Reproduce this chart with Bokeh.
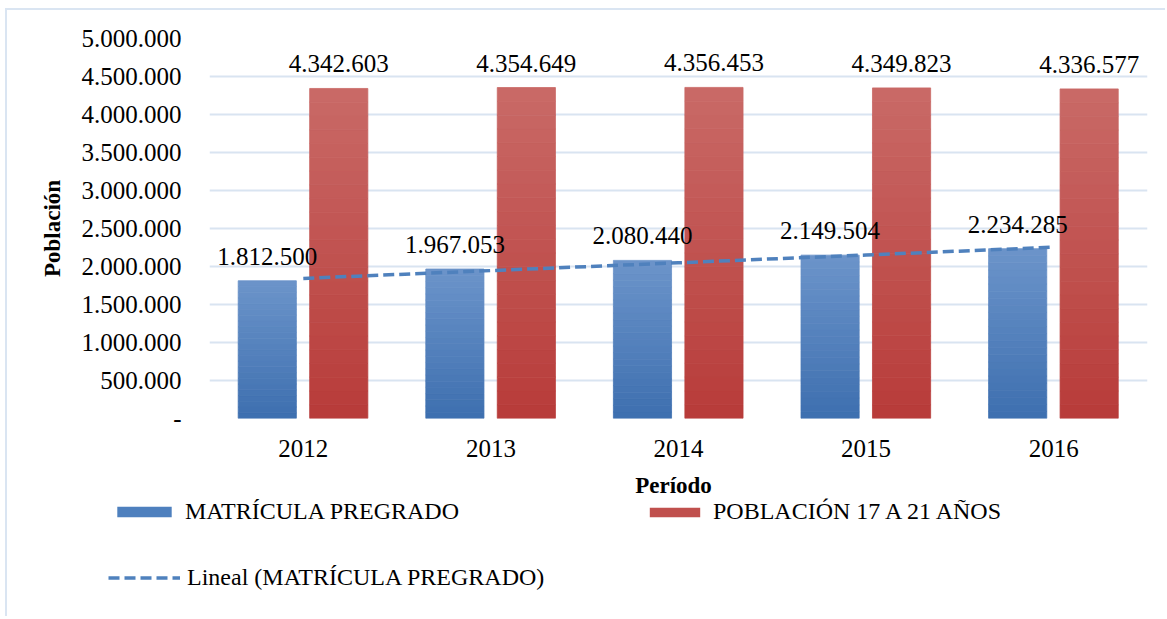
import numpy as np
from bokeh.plotting import figure
from bokeh.models import (ColumnDataSource, FactorRange, FixedTicker, Legend, LegendItem,
                          LabelSet, Label, Range1d)
from bokeh.transform import dodge
from bokeh.embed import file_html
from bokeh.resources import INLINE

# ---- data ----
years = ["2012", "2013", "2014", "2015", "2016"]
matricula = [1812500, 1967053, 2080440, 2149504, 2234285]
poblacion = [4342603, 4354649, 4356453, 4349823, 4336577]
y_ticks = [0, 500000, 1000000, 1500000, 2000000, 2500000, 3000000, 3500000, 4000000, 4500000, 5000000]
y_tick_labels = ["-", "500.000", "1.000.000", "1.500.000", "2.000.000", "2.500.000",
                 "3.000.000", "3.500.000", "4.000.000", "4.500.000", "5.000.000"]
name_m = "MATRÍCULA PREGRADO"
name_p = "POBLACIÓN 17 A 21 AÑOS"
name_t = "Lineal (MATRÍCULA PREGRADO)"
x_title = "Período"
y_title = "Población"

# page-space layout: outer border at (5, 8); canvases start after the 2px border
OX, OY = 7, 10
W = 1167 - OX
H1 = 460
H2 = 148
SERIF = "Liberation Serif"
BORDER = "2px solid #dae5f2"

p = figure(x_range=FactorRange(*years), y_range=(0, 5000000), width=W, height=H1,
           output_backend="svg", toolbar_location=None,
           min_border_left=209 - OX, min_border_right=W - (1147 - OX), min_border_top=38 - OY,
           min_border_bottom=H1 - (418 - OY))
p.styles = {"margin-left": "5px", "margin-top": "8px", "border-left": BORDER, "border-top": BORDER}
p.background_fill_color = "white"
p.border_fill_color = "white"
p.outline_line_color = None

def fmt(v):
    return f"{v:,}".replace(",", ".")

def hex2rgb(h):
    h = h.lstrip("#")
    return [int(h[i:i + 2], 16) for i in (0, 2, 4)]

def lerp(c1, c2, t):
    a, b = hex2rgb(c1), hex2rgb(c2)
    return "#%02x%02x%02x" % tuple(int(round(a[i] + (b[i] - a[i]) * t)) for i in range(3))

N = 24
BW = 0.31
OFF_M, OFF_P = -0.192, 0.189

def gradient_bars(fig, values, offset, c_bottom, c_top):
    for k in range(N):
        col = lerp(c_bottom, c_top, (k + 0.5) / N)
        src = ColumnDataSource(dict(year=years,
                                    bottom=[v * k / N for v in values],
                                    top=[v * (k + 1) / N for v in values]))
        fig.vbar(x=dodge("year", offset, range=fig.x_range), bottom="bottom", top="top",
                 width=BW, source=src, fill_color=col, line_color=col, line_width=0.8)

gradient_bars(p, matricula, OFF_M, "#3d6faf", "#6c94ca")
gradient_bars(p, poblacion, OFF_P, "#b83b39", "#c96a67")

# linear trend line of matricula (Excel "Lineal")
xi = np.arange(len(years))
slope, intercept = np.polyfit(xi, matricula, 1)
trend = list(intercept + slope * xi)
TREND_COLOR, TREND_W, TREND_DASH = "#4f81bd", 3.5, "11 5"
p.line(x=years, y=trend, line_color=TREND_COLOR, line_width=TREND_W, line_dash=TREND_DASH)

# data labels
lab_m = ColumnDataSource(dict(year=years, v=matricula, t=[fmt(v) for v in matricula]))
lab_p = ColumnDataSource(dict(year=years, v=poblacion, t=[fmt(v) for v in poblacion]))
for src, off in ((lab_m, OFF_M), (lab_p, OFF_P)):
    p.add_layout(LabelSet(x=dodge("year", off, range=p.x_range), y="v", text="t", source=src,
                          y_offset=16, text_align="center", text_baseline="alphabetic",
                          text_font=SERIF, text_font_size="25px", text_color="#000000"))

# axes
p.yaxis.ticker = FixedTicker(ticks=y_ticks)
p.yaxis.major_label_overrides = {t: l for t, l in zip(y_ticks, y_tick_labels)}
for ax in (p.xaxis[0], p.yaxis[0]):
    ax.axis_line_color = None
    ax.major_tick_line_color = None
    ax.minor_tick_line_color = None
    ax.major_tick_in = 0
    ax.major_tick_out = 0
    ax.major_label_text_font = SERIF
    ax.major_label_text_font_size = "25px"
    ax.major_label_text_color = "#000000"
    ax.axis_label_text_font = SERIF
    ax.axis_label_text_font_style = "bold"
    ax.axis_label_text_font_size = "23px"
    ax.axis_label_text_color = "#000000"
p.yaxis.major_label_standoff = 28
p.yaxis.axis_label = y_title
p.yaxis.axis_label_standoff = 14
p.xaxis.major_label_standoff = 21

p.xgrid.grid_line_color = None
p.ygrid.grid_line_color = "#d9e4f1"
p.ygrid.grid_line_width = 2

# ---- strip below the chart: x-axis title and legend (separate root) ----
q = figure(x_range=Range1d(0, W), y_range=Range1d(0, H2), width=W, height=H2,
           output_backend="svg", toolbar_location=None,
           min_border=0, min_border_left=0, min_border_right=0, min_border_top=0, min_border_bottom=0)
q.styles = {"margin-left": "5px", "border-left": BORDER}
q.axis.visible = False
q.grid.grid_line_color = None
q.outline_line_color = None
q.background_fill_color = "white"
q.border_fill_color = "white"

Q_TOP = OY + H1   # page y of the strip's top edge

q.add_layout(Label(x=673 - OX, y=H2 - (487 - Q_TOP), text=x_title, text_align="center",
                   text_baseline="middle", text_font=SERIF, text_font_style="bold",
                   text_font_size="23px", text_color="#000000"))

dummy = ColumnDataSource(dict(x=[-500, -400], y=[-500, -400]))
sm = q.rect(x="x", y="y", width=1, height=1, source=dummy, fill_color="#4e80be", line_color=None)
sp = q.rect(x="x", y="y", width=1, height=1, source=dummy, fill_color="#c0504d", line_color=None)
st = q.line(x="x", y="y", source=dummy, line_color=TREND_COLOR, line_width=TREND_W, line_dash=TREND_DASH)

ITEM_H = 26
def mk_legend(item, x_page, row_center_page, gw, gh):
    yc = row_center_page - Q_TOP
    loc = (x_page - OX, H2 - yc - ITEM_H / 2)
    lg = Legend(items=[item], location=loc, orientation="vertical",
                glyph_width=gw, glyph_height=gh, label_standoff=7,
                label_text_font=SERIF, label_text_font_size="24px", label_text_color="#000000",
                label_height=ITEM_H, padding=0, margin=0, spacing=0,
                background_fill_alpha=0, border_line_color=None)
    q.add_layout(lg, "center")

mk_legend(LegendItem(label=name_m, renderers=[sm]), 110, 514, 68, 13)
mk_legend(LegendItem(label=name_p, renderers=[sp]), 643, 514, 63, 12)
mk_legend(LegendItem(label=name_t, renderers=[st]), 108, 580, 72, 13)

open("out.html", "w").write(file_html([p, q], INLINE))
